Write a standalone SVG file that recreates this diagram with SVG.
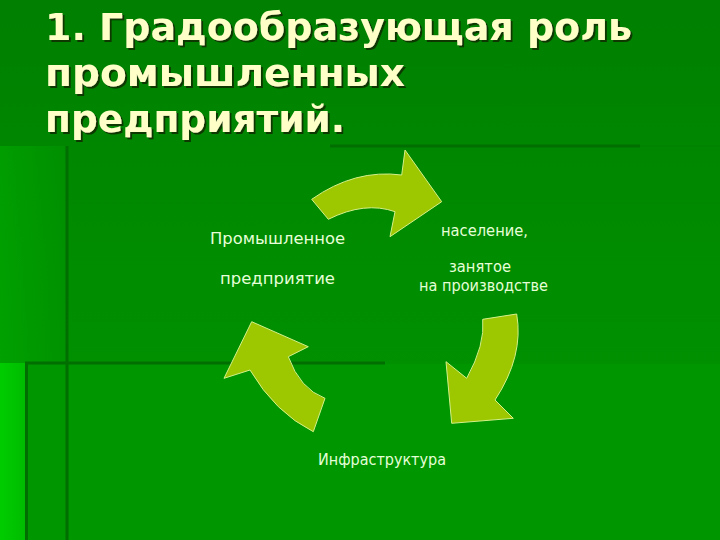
<svg xmlns="http://www.w3.org/2000/svg" width="720" height="540" viewBox="0 0 720 540">
<defs>
<linearGradient id="bg" x1="0" y1="0" x2="0" y2="1">
<stop offset="0" stop-color="#007f00"/>
<stop offset="0.5" stop-color="#008d00"/>
<stop offset="1" stop-color="#009500"/>
</linearGradient>
<linearGradient id="leftglow" x1="0" y1="0" x2="1" y2="0">
<stop offset="0" stop-color="#00ac00"/>
<stop offset="1" stop-color="#009400"/>
</linearGradient>
<linearGradient id="strip" x1="0" y1="0" x2="1" y2="0">
<stop offset="0" stop-color="#00cc00"/>
<stop offset="1" stop-color="#00bc00"/>
</linearGradient>
<filter id="tshadow" x="-5%" y="-20%" width="110%" height="150%">
<feDropShadow dx="2" dy="2" stdDeviation="0.6" flood-color="#0a3000" flood-opacity="0.9"/>
</filter>
<style>
.title{font-family:"DejaVu Sans","Noto Sans",sans-serif;font-weight:bold;font-size:37px;fill:#ffffc8}
.lbl{font-family:"DejaVu Sans","Noto Sans",sans-serif;font-size:15px;fill:#e6ffd8}
.arrow{fill:#9dc800;stroke:#d4f08a;stroke-width:1;stroke-linejoin:miter}
.rule{stroke:#006e00;stroke-width:3;fill:none}
</style>
</defs>
<rect width="720" height="540" fill="url(#bg)"/>
<rect x="0" y="146" width="66" height="217" fill="url(#leftglow)" opacity="0.6"/>
<rect x="25" y="363" width="695" height="177" fill="#009600"/>
<rect x="0" y="363" width="25" height="177" fill="url(#strip)"/>
<g id="rules">
<line class="rule" x1="330" y1="146" x2="640" y2="146"/>
<line x1="640" y1="146" x2="720" y2="146" stroke="#008400" stroke-width="2"/>
<line class="rule" x1="67" y1="146" x2="67" y2="540" stroke="#007600"/>
<line class="rule" x1="25" y1="363" x2="385" y2="363"/>
<line x1="385" y1="363" x2="720" y2="363" stroke="#009000" stroke-width="2"/>
<line class="rule" x1="26.5" y1="363" x2="26.5" y2="540" stroke="#007c00"/>
</g>
<g id="title" filter="url(#tshadow)">
<text class="title" x="45" y="40" textLength="587" lengthAdjust="spacingAndGlyphs">1. Градообразующая роль</text>
<text class="title" x="45" y="86" textLength="360" lengthAdjust="spacingAndGlyphs">промышленных</text>
<text class="title" x="45" y="132" textLength="300" lengthAdjust="spacingAndGlyphs">предприятий.</text>
</g>
<g id="connectors">
<path class="arrow" d="M311.7,199.3 Q355,168.8 401.7,175 L405,150 L441.7,201.7 L390,236.7 L395,211.7 Q365,201 328.3,219.3 Z"/>
<path class="arrow" d="M482.7,319.3 L516.7,314 Q524,356 495,400 L513.3,418.3 L451.7,423.3 L446,361.7 L466.7,378.3 Q485.3,344.6 482.7,319.3 Z"/>
<path class="arrow" d="M251.7,321.7 L308.3,346.7 L288.3,356.7 Q300,389 325,398.3 L313.3,431.7 Q275,412.5 250,370 L224,378.3 Z"/>
</g>
<g id="node-enterprise">
<text class="lbl" x="210" y="244" textLength="135" lengthAdjust="spacingAndGlyphs">Промышленное</text>
<text class="lbl" x="220" y="284" textLength="115" lengthAdjust="spacingAndGlyphs">предприятие</text>
</g>
<g id="node-population">
<text class="lbl" x="441" y="236" textLength="87" lengthAdjust="spacingAndGlyphs">население,</text>
<text class="lbl" x="449" y="272" textLength="62" lengthAdjust="spacingAndGlyphs">занятое</text>
<text class="lbl" x="419" y="291" textLength="129" lengthAdjust="spacingAndGlyphs">на производстве</text>
</g>
<g id="node-infrastructure">
<text class="lbl" x="318" y="465" textLength="128" lengthAdjust="spacingAndGlyphs">Инфраструктура</text>
</g>
</svg>
